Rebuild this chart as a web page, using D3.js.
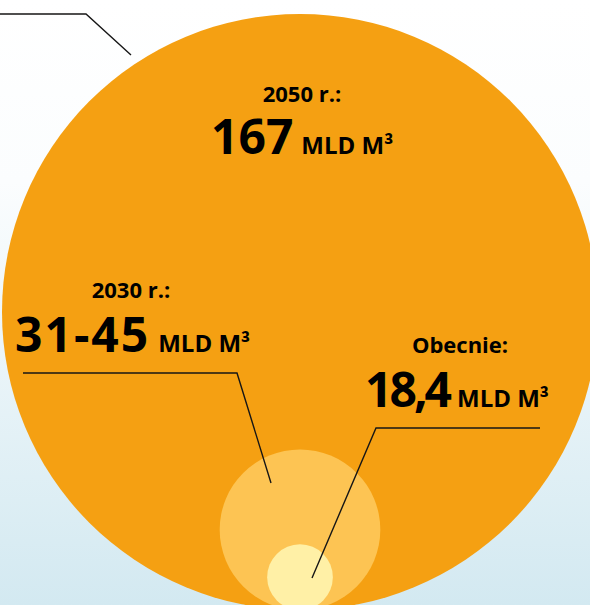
<!DOCTYPE html>
<html><head><meta charset="utf-8">
<script src="https://cdn.jsdelivr.net/npm/d3@7"></script>
<style>html,body{margin:0;padding:0;overflow:hidden;}svg{display:block;}</style>
</head><body>
<script>
// ---- data ----
const periods = ["Obecnie:", "2030 r.:", "2050 r.:"];
const valueLabels = ["18,4", "31-45", "167"];
const values = [18.4, 45, 167];           // mld m3 (upper estimate for 2030)
const unitLabel = "MLD M³";
const circleColors = ["#fff0a6", "#fdc453", "#f5a012"];

const W = 590, H = 605;
const svg = d3.select("body").append("svg").attr("width", W).attr("height", H);
const defs = svg.append("defs");
const grad = defs.append("linearGradient").attr("id", "bg").attr("x1", 0).attr("y1", 0).attr("x2", 0).attr("y2", 1);
grad.append("stop").attr("offset", "0%").attr("stop-color", "#ffffff");
grad.append("stop").attr("offset", "30%").attr("stop-color", "#fbfdfe");
grad.append("stop").attr("offset", "100%").attr("stop-color", "#d3e9f1");
svg.append("rect").attr("width", W).attr("height", H).attr("fill", "url(#bg)");

const r = d3.scaleLinear().domain([0, d3.max(values)]).range([0, 298]);
const cx = 300, baseY = 610;

const order = d3.range(values.length).sort((a, b) => values[b] - values[a]);
svg.selectAll("circle.b").data(order).join("circle")
  .attr("cx", cx).attr("cy", i => baseY - r(values[i])).attr("r", i => r(values[i]))
  .attr("fill", i => circleColors[i]);

// leader lines
const line = d3.line();
const leaders = [
  [[540, 428], [376, 428], [312, 578]],
  [[23, 373], [237, 373], [271, 483]],
  [[0, 14], [86, 14], [131, 55]]
];
svg.selectAll("path.lead").data(leaders).join("path")
  .attr("d", d => line(d)).attr("fill", "none").attr("stroke", "#161616").attr("stroke-width", 1.4);

// labels
const font = "'Open Sans', 'Noto Sans', sans-serif";
const labelPos = [
  {px: 460, py: 353, vx: 365, vy: 407, ls: -3},
  {px: 131, py: 298, vx: 15, vy: 352, ls: 2},
  {px: 302, py: 102, vx: 211, vy: 154, ls: 0}
];
periods.forEach((p, i) => {
  const L = labelPos[i];
  svg.append("text").attr("x", L.px).attr("y", L.py).attr("text-anchor", "middle")
    .attr("font-family", font).attr("font-weight", 700).attr("font-size", 22)
    .attr("fill", "#000").text(p);
  const t = svg.append("text").attr("x", L.vx).attr("y", L.vy)
    .attr("font-family", font).attr("font-weight", 700).attr("fill", "#000");
  t.append("tspan").attr("font-size", 48).attr("letter-spacing", L.ls).text(valueLabels[i]);
  t.append("tspan").attr("dx", 8).attr("font-size", 24).text(unitLabel);
});
</script>
</body></html>
